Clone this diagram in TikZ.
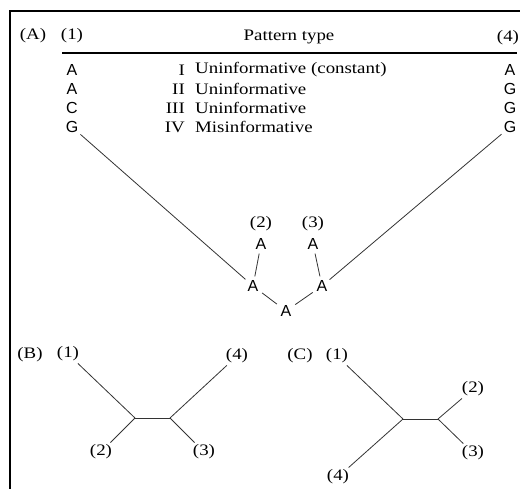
\documentclass[tikz,border=0pt]{standalone}
\usepackage{fontspec}
\setmainfont[FakeStretch=1.18]{Liberation Serif}
\newfontfamily\basefont{Liberation Sans}
\usetikzlibrary{positioning}
\tikzset{
  base/.style={font=\basefont\fontsize{16}{16}\selectfont, inner sep=2pt},
  lbl/.style={font=\fontsize{16}{16}\selectfont, inner sep=2pt},
  branch/.style={draw=black!80, line width=0.8pt},
  twig/.style={branch, shorten <=2pt, shorten >=2pt}
}

\begin{document}
\begin{tikzpicture}[x=1pt,y=-1pt]
  \useasboundingbox (0,0) rectangle (520,489);
  % frame
  \draw[line width=1.5pt] (10,489) -- (10,11) -- (520,11);

  % (A) header
  \node[lbl] (panelA) at (33,36) {(A)};
  \node[lbl] (h1) at (72,36) {(1)};
  \node[lbl] (htype) at (289,37) {Pattern type};
  \node[lbl] (h4) at (508,38) {(4)};
  \draw[line width=1.1pt] (62,53) -- (517,53);

  % sites
  \foreach \a/\b/\num/\txt [count=\i] in {A/A/I/Uninformative (constant),
      A/G/II/Uninformative, C/G/III/Uninformative, G/G/IV/Misinformative}
  {
    \node[base] (s1-\i) at (72,{51+19*\i}) {\a};
    \node[base] (s4-\i) at (510,{51+19*\i}) {\b};
    \node[lbl, anchor=east] (n-\i) at (187,{51+19*\i}) {\num};
    \node[lbl, anchor=west] (t-\i) at (193,{51+19*\i}) {\txt};
  }

  % tree with states
  \node[base] (x) at (253,286) {A};
  \node[base] (y) at (322,286) {A};
  \node[base] (r) at (286,311) {A};
  \node[base] (a2) at (261,244) {A};
  \node[base] (a3) at (313,244) {A};
  \node[lbl] (t2) at (261,224) {(2)};
  \node[lbl] (t3) at (313,224) {(3)};
  \path[branch]
    (s1-4) edge (x)
    (s4-4) edge (y);
  \path[twig]
    (a2) edge (x)
    (a3) edge (y)
    (x) edge (r)
    (y) edge (r);

  % (B)
  \node[lbl] (panelB) at (30,355) {(B)};
  \coordinate (jB1) at (135,418);
  \coordinate (jB2) at (170,418);
  \node[lbl] (b1) at (68,354) {(1)};
  \node[lbl] (b4) at (237,356) {(4)};
  \node[lbl] (b2) at (101,452) {(2)};
  \node[lbl] (b3) at (204,452) {(3)};
  \path[branch]
    (b1) edge (jB1)
    (b2) edge (jB1)
    (jB1) edge (jB2)
    (b4) edge (jB2)
    (b3) edge (jB2);

  % (C)
  \node[lbl] (panelC) at (300,356) {(C)};
  \coordinate (jC1) at (403,419);
  \coordinate (jC2) at (438,419);
  \node[lbl] (c1) at (337,356) {(1)};
  \node[lbl] (c2) at (473,389) {(2)};
  \node[lbl] (c3) at (473,453) {(3)};
  \node[lbl] (c4) at (338,477) {(4)};
  \path[branch]
    (c1) edge (jC1)
    (c4) edge (jC1)
    (jC1) edge (jC2)
    (c2) edge (jC2)
    (c3) edge (jC2);
\end{tikzpicture}
\end{document}
